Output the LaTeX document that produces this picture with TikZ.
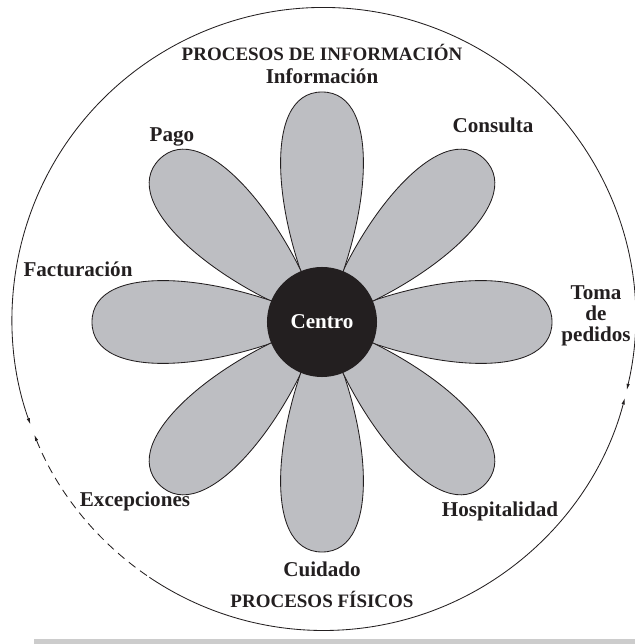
\documentclass[tikz,border=0pt]{standalone}
\usepackage{fontspec}
\setmainfont{Liberation Serif}
\usetikzlibrary{arrows.meta}
\definecolor{petalfill}{RGB}{189,190,194}
\definecolor{corecol}{RGB}{35,31,32}
\definecolor{stripcol}{gray}{0.8}
\tikzset{
  lab/.style={font=\fontsize{15}{15}\selectfont\bfseries,text=corecol,align=center,inner sep=0pt},
  headlab/.style={font=\fontsize{13.5}{15}\selectfont\bfseries,text=corecol,inner sep=0pt},
  ringline/.style={draw=corecol,line width=0.6pt},
  petal/.pic={\filldraw[fill=petalfill,draw=corecol,line width=0.6pt]
    (0,0) .. controls (95,48) and (230,62) .. (230,0)
          .. controls (230,-62) and (95,-48) .. (0,0) -- cycle;},
}

\begin{document}
\begin{tikzpicture}[x=0.025cm,y=0.025cm,>={Latex[length=4.5pt,width=2.4pt]}]
  \useasboundingbox (-322,-322) rectangle (313,322);
  \fill[stripcol] (-288,-316.5) rectangle (313,-322);
  % outer ring, broken on both sides
  \draw[ringline,<->] ([shift={(1.5,3)}]-13.2:311.5) arc[start angle=-13.2,end angle=199.8,radius=311.5];
  \draw[ringline,dash pattern=on 6pt off 4pt,<-] ([shift={(1.5,3)}]201.8:311.5) arc[start angle=201.8,end angle=236,radius=311.5];
  \draw[ringline,->] ([shift={(1.5,3)}]236:311.5) arc[start angle=236,end angle=345.3,radius=311.5];
  % petals
  \pic[rotate=0] at (0,0) {petal};
  \pic[rotate=45] at (0,0) {petal};
  \pic[rotate=90] at (0,0) {petal};
  \pic[rotate=135] at (0,0) {petal};
  \pic[rotate=180] at (0,0) {petal};
  \pic[rotate=225] at (0,0) {petal};
  \pic[rotate=270] at (0,0) {petal};
  \pic[rotate=315] at (0,0) {petal};
  \node[lab,circle,fill=corecol,text=white,minimum size=2.75cm] (centro) at (0,0) {Centro};
  % labels
  \node[headlab,anchor=base] (hinfo) at (0,261) {PROCESOS DE INFORMACIÓN};
  \node[lab,anchor=base] (linfo) at (0,238) {Información};
  \node[lab,anchor=base] (lcons) at (171,189) {Consulta};
  \node[lab,anchor=base] (lpago) at (-150,180) {Pago};
  \node[lab,anchor=base] (lfact) at (-244,45) {Facturación};
  \node[lab] (ltoma) at (274,6) {Toma\\de\\pedidos};
  \node[lab,anchor=base] (lexce) at (-187,-184) {Excepciones};
  \node[lab,anchor=base] (lhosp) at (178,-194) {Hospitalidad};
  \node[lab,anchor=base] (lcuid) at (0,-254) {Cuidado};
  \node[headlab,anchor=base] (hfis) at (0,-285) {PROCESOS FÍSICOS};
\end{tikzpicture}
\end{document}
